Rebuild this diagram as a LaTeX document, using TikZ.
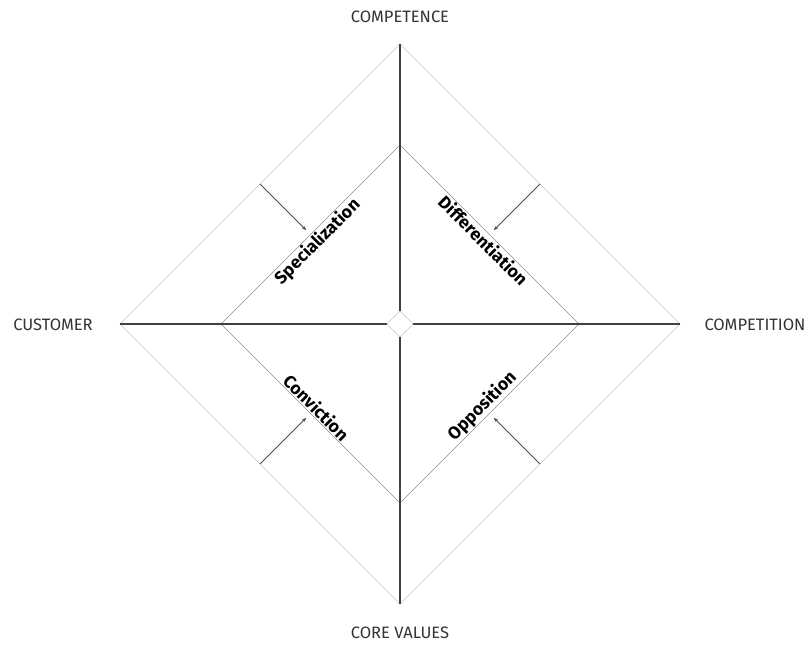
\documentclass[tikz,border=0pt]{standalone}
\usepackage{fontspec}
\setmainfont{Fira Sans}
\usetikzlibrary{arrows.meta,calc}

\tikzset{
  externo/.style={draw=black!22, line width=0.5pt},
  interno/.style={draw=black!45, line width=0.6pt},
  eixo/.style={draw=black!75, line width=1.8pt},
  seta/.style={draw=black!70, line width=0.8pt, -{Stealth[length=5pt,width=3.5pt]}, shorten >=6pt},
  rotulo/.style={font=\fontsize{17.5}{20}\selectfont\bfseries, inner sep=1pt},
  titulo/.style={font=\fontsize{16.5}{19}\selectfont, text=black!80}
}

\begin{document}
\begin{tikzpicture}[x=1pt,y=1pt]
\useasboundingbox (-400,-332) rectangle (409,324);

% Vertices
\foreach \n/\a in {T/90, L/180, B/270, R/0} {
	\coordinate (O\n) at (\a:280);
	\coordinate (I\n) at (\a:179);
	\coordinate (C\n) at (\a:13);
}

% Losangos
\draw[externo] (OT) -- (OL) -- (OB) -- (OR) -- cycle;
\draw[interno] (IT) -- (IL) -- (IB) -- (IR) -- cycle;
\draw[externo] (CT) -- (CL) -- (CB) -- (CR) -- cycle;

% Eixos
\foreach \n in {T, L, B, R}
	\draw[eixo] (C\n) -- (O\n);

% Setas
\foreach \p/\q in {T/L, T/R, B/L, B/R} {
	\coordinate (m\p\q) at ($(O\p)!0.5!(O\q)$);
	\coordinate (n\p\q) at ($(I\p)!0.5!(I\q)$);
	\draw[seta] (m\p\q) -- (n\p\q);
}

% Rotulos
\node[rotulo, rotate=45, anchor=north] (spec) at (nTL) {Specialization};
\node[rotulo, rotate=-45, anchor=north] (diff) at (nTR) {Differentiation};
\node[rotulo, rotate=-45, anchor=south] (conv) at (nBL) {Conviction};
\node[rotulo, rotate=45, anchor=south] (oppo) at (nBR) {Opposition};

\node[titulo] (competence) at (0,307) {COMPETENCE};
\node[titulo] (customer) at (-347,-1) {CUSTOMER};
\node[titulo] (competition) at (355,-1) {COMPETITION};
\node[titulo] (corevalues) at (0,-309) {CORE VALUES};
\end{tikzpicture}
\end{document}
